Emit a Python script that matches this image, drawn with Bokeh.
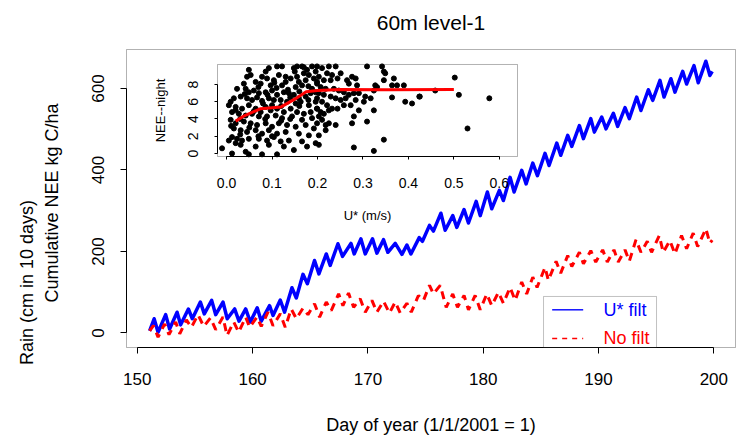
import math
from bokeh.plotting import figure
from bokeh.models import (Range1d, LinearAxis, FixedTicker, Label, BoxAnnotation,
                          PrintfTickFormatter)
from bokeh.embed import file_html
from bokeh.resources import INLINE

FONT = "Liberation Sans"

# ---------------- data ----------------
day_ticks = [150, 160, 170, 180, 190, 200]
nee_ticks = [0, 200, 400, 600]
ustar_ticks = [0.0, 0.1, 0.2, 0.3, 0.4, 0.5, 0.6]
night_ticks = [0, 2, 4, 6, 8]

title_text = "60m level-1"
x_label = "Day of year (1/1/2001 = 1)"
y_label_1 = "Rain (cm in 10 days)"
y_label_2 = "Cumulative NEE kg C/ha"
inset_x_label = "U* (m/s)"
inset_y_label = "NEE--night"
series_names = ["U* filt", "No filt"]

# U* filtered cumulative NEE (blue)
blue_day = [151.07, 151.46, 151.8, 152.46, 152.8, 153.45, 153.76, 154.43, 154.77, 155.47,
            155.81, 156.45, 156.8, 157.43, 157.8, 158.44, 158.82, 159.4, 159.8, 160.4,
            160.75, 161.47, 161.77, 162.4, 162.77, 163.41, 163.79, 164.37, 164.75, 165.37,
            165.75, 166.39, 166.73, 167.4, 167.8, 168.53, 168.81, 169.39, 169.77, 170.4,
            170.78, 171.35, 171.73, 172.37, 172.95, 173.38, 173.73, 174.45, 174.73, 175.34,
            175.68, 176.33, 176.7, 177.36, 177.71, 178.34, 178.72, 179.39, 179.74, 180.36,
            180.74, 181.4, 181.75, 182.33, 182.68, 183.34, 183.72, 184.3, 184.7, 185.36,
            185.71, 186.38, 186.72, 187.33, 187.68, 188.34, 188.69, 189.33, 189.64, 190.28,
            190.65, 191.29, 191.66, 192.3, 192.67, 193.31, 193.68, 194.32, 194.7, 195.33,
            195.68, 196.28, 196.63, 197.3, 197.64, 198.28, 198.65, 199.31, 199.66, 199.86]
blue_val = [5, 35, 2, 45, 10, 51, 20, 59, 35, 76,
            47, 80, 45, 76, 35, 59, 29, 59, 27, 62,
            29, 67, 43, 81, 51, 111, 86, 144, 121, 178,
            145, 194, 166, 219, 188, 220, 194, 231, 194, 231,
            196, 229, 198, 220, 193, 216, 194, 234, 225, 264,
            250, 294, 252, 288, 259, 303, 270, 323, 288, 346,
            305, 350, 325, 382, 346, 399, 366, 417, 386, 441,
            411, 466, 436, 485, 458, 509, 477, 526, 493, 530,
            501, 539, 507, 553, 526, 579, 546, 597, 571, 620,
            579, 624, 591, 642, 611, 656, 614, 667, 632, 642]

# no filter cumulative NEE (red dashed)
red_day = [151.07, 151.4, 151.8, 152.37, 152.75, 153.33, 153.68, 154.26, 154.69, 155.27,
           155.76, 156.34, 156.8, 157.43, 157.78, 158.36, 158.79, 159.4, 159.74, 160.38,
           160.75, 161.33, 161.77, 162.4, 162.83, 163.35, 163.79, 164.37, 164.8, 165.37,
           165.81, 166.39, 166.82, 167.46, 167.83, 168.32, 168.76, 169.33, 169.77, 170.35,
           170.78, 171.35, 171.87, 172.37, 172.8, 173.38, 173.76, 174.38, 174.82, 175.34,
           175.68, 176.27, 176.79, 177.36, 177.77, 178.34, 178.72, 179.3, 179.74, 180.31,
           180.74, 181.32, 181.75, 182.33, 182.77, 183.34, 183.77, 184.3, 184.67, 185.36,
           185.65, 186.32, 186.72, 187.33, 187.68, 188.34, 188.69, 189.33, 189.76, 190.36,
           190.76, 191.34, 191.71, 192.3, 192.67, 193.25, 193.68, 194.23, 194.6, 195.27,
           195.61, 196.19, 196.63, 197.2, 197.64, 198.21, 198.6, 199.31, 199.66, 199.86]
red_val = [5, 18, -10, 22, -4, 27, -2, 32, 14, 45,
           16, 37, 8, 39, -6, 27, 2, 39, 14, 39,
           16, 51, 18, 47, 14, 59, 35, 61, 45, 72,
           39, 76, 55, 96, 67, 98, 63, 84, 51, 80,
           51, 78, 49, 76, 49, 73, 51, 92, 80, 117,
           96, 117, 63, 96, 63, 92, 57, 92, 57, 96,
           67, 100, 73, 112, 80, 125, 96, 137, 112, 161,
           129, 176, 147, 190, 163, 198, 170, 202, 174, 204,
           174, 204, 174, 204, 176, 229, 198, 225, 198, 239,
           198, 227, 194, 239, 207, 245, 212, 256, 220, 228]

# inset: night NEE versus U*  (u*, NEE) pairs
night_low_u = [
    (0.049, 9.7), (0.086, 9.5), (0.093, 9.9), (0.111, 10.1), (0.122, 10.1), (0.148, 9.9),
    (0.155, 10.1), (0.166, 10.1), (0.177, 9.7), (0.188, 10.1), (0.196, 9.5), (0.17, 9.3),
    (0.181, 9.1), (0.045, 8.9), (0.053, 9.1), (0.078, 8.9), (0.089, 8.7), (0.104, 8.5),
    (0.115, 9.1), (0.13, 8.3), (0.141, 8.7), (0.159, 8.3), (0.174, 8.5), (0.192, 8.7),
    (0.199, 8.3), (0.038, 8.1), (0.064, 8.3), (0.075, 8.1), (0.097, 7.9), (0.122, 7.9),
    (0.152, 7.7), (0.166, 7.9), (0.188, 7.5), (0.196, 7.1), (0.023, 7.5), (0.042, 7.5),
    (0.049, 7.1), (0.06, 7.3), (0.071, 7.0), (0.086, 7.1), (0.1, 7.3), (0.111, 6.8),
    (0.126, 7.1), (0.137, 7.0), (0.148, 6.8), (0.159, 6.4), (0.174, 6.6), (0.185, 7.0),
    (0.009, 6.0), (0.016, 6.4), (0.031, 6.6), (0.045, 6.4), (0.056, 6.2), (0.067, 6.5),
    (0.078, 6.1), (0.093, 6.4), (0.104, 6.2), (0.119, 6.2), (0.133, 6.0), (0.152, 5.8),
    (0.163, 6.0), (0.181, 5.6), (0.196, 6.0), (0.005, 5.6), (0.02, 5.4), (0.034, 5.2),
    (0.049, 5.6), (0.064, 5.2), (0.075, 4.8), (0.086, 5.4), (0.097, 5.0), (0.111, 5.2),
    (0.126, 4.8), (0.141, 5.2), (0.155, 4.8), (0.17, 4.6), (0.185, 4.8), (0.199, 5.2),
    (0.012, 4.8), (0.027, 4.6), (0.042, 4.4), (0.056, 4.6), (0.071, 4.3), (0.089, 4.3),
    (0.108, 4.4), (0.122, 4.1), (0.144, 4.3), (0.166, 3.9), (0.188, 4.1), (0.009, 3.9),
    (0.02, 3.5), (0.038, 3.7), (0.053, 3.5), (0.067, 3.3), (0.086, 3.5), (0.1, 3.1),
    (0.115, 3.5), (0.133, 3.3), (0.152, 3.1), (0.174, 3.3), (0.192, 2.9), (0.016, 2.9),
    (0.031, 2.7), (0.045, 2.5), (0.064, 2.7), (0.078, 2.3), (0.093, 2.7), (0.111, 2.3),
    (0.13, 2.5), (0.159, 2.3), (0.181, 2.1), (0.012, 1.9), (0.023, 1.7), (0.034, 1.5),
    (0.049, 1.7), (0.071, 1.7), (0.089, 1.5), (0.104, 1.9), (0.119, 1.4), (0.137, 1.5),
    (0.166, 1.4), (0.005, 1.5), (0.02, 1.2), (0.031, 1.0), (0.064, 0.8), (0.093, 1.0),
    (0.126, 0.8), (0.148, 0.4), (0.177, 0.8), (0.196, 1.2), (0.012, 0.0), (0.042, 0.2),
    (0.078, -0.1), (0.111, -0.1), (0.049, -0.1), (-0.01, 0.6),
    (0.03, 4.0), (0.06, 4.9), (0.08, 5.8), (0.1, 5.6), (0.12, 5.5), (0.14, 6.5),
    (0.16, 7.2), (0.18, 7.8), (0.07, 7.7), (0.09, 6.8), (0.11, 7.6), (0.13, 8.9),
    (0.15, 9.5), (0.17, 10.0), (0.05, 3.0), (0.07, 2.0), (0.1, 2.0), (0.12, 3.8),
    (0.14, 4.0), (0.16, 5.5), (0.18, 6.2), (0.04, 6.9), (0.02, 5.0), (0.01, 3.2),
    (0.03, 2.2), (0.085, 4.0), (0.105, 8.2), (0.135, 7.4), (0.155, 8.9),
]
night_high_u = [
    (0.199, 10.1), (0.225, 10.1), (0.24, 10.1), (0.21, 9.9), (0.221, 9.3), (0.232, 9.1),
    (0.251, 9.3), (0.203, 8.9), (0.214, 8.5), (0.229, 8.5), (0.244, 8.7), (0.265, 8.5),
    (0.276, 8.9), (0.284, 8.7), (0.269, 8.1), (0.287, 7.9), (0.309, 10.1), (0.342, 10.1),
    (0.346, 9.5), (0.349, 9.3), (0.368, 8.7), (0.346, 8.5), (0.364, 7.9), (0.375, 7.9),
    (0.39, 7.9), (0.327, 7.9), (0.331, 7.7), (0.324, 7.3), (0.199, 8.1), (0.207, 7.7),
    (0.218, 7.5), (0.236, 7.5), (0.247, 7.3), (0.258, 7.1), (0.269, 6.8), (0.28, 7.0),
    (0.291, 7.0), (0.305, 6.6), (0.317, 6.4), (0.203, 7.0), (0.214, 6.8), (0.229, 6.6),
    (0.24, 6.4), (0.251, 6.2), (0.262, 6.4), (0.284, 6.2), (0.302, 6.0), (0.364, 6.5),
    (0.393, 6.0), (0.408, 5.8), (0.424, 6.6), (0.199, 6.4), (0.21, 6.0), (0.221, 5.6),
    (0.232, 5.2), (0.244, 5.2), (0.258, 5.6), (0.273, 5.6), (0.291, 5.0), (0.324, 5.0),
    (0.199, 5.2), (0.207, 4.8), (0.214, 4.6), (0.225, 5.0), (0.203, 4.3), (0.21, 3.9),
    (0.199, 3.5), (0.218, 3.3), (0.24, 3.3), (0.225, 3.5), (0.276, 3.5), (0.28, 4.3),
    (0.309, 3.7), (0.218, 2.7), (0.203, 2.1), (0.346, 1.6), (0.203, 1.0), (0.28, 0.7),
    (0.324, 0.3),
    (0.502, 8.8), (0.425, 6.6), (0.459, 7.3), (0.511, 6.8), (0.578, 6.4), (0.53, 2.9),
]
# smooth (lowess) curve through the scatter
lowess_u = [0.02, 0.04, 0.075, 0.12, 0.15, 0.175, 0.2, 0.25, 0.35, 0.5]
lowess_v = [3.75, 4.4, 5.2, 5.4, 6.3, 7.15, 7.3, 7.42, 7.38, 7.42]

night_u = [u for u, v in night_low_u + night_high_u]
night_v = [v for u, v in night_low_u + night_high_u]

# ---------------- layout constants ----------------
W, H = 744, 437
# main plot box (data units) and the canvas-wide ranges that place it
BOX_L, BOX_R, BOX_B, BOX_T = 149.063, 201.88, -35.6, 695.7
X_CANVAS = (138.1352, 202.6603)
Y_CANVAS = (-256.46, 815.95)
# inset box (inset units) and canvas-wide inset ranges
INSET_L, INSET_R, INSET_B, INSET_T = -0.02, 0.64, -0.35, 10.32
UX_CANVAS = (-0.4974, 1.1394)
UY_CANVAS = (-32.940, 17.7426)

p = figure(width=W, height=H, output_backend="svg", toolbar_location=None, title=None,
           x_range=Range1d(*X_CANVAS), y_range=Range1d(*Y_CANVAS),
           x_axis_location=None, y_axis_location=None,
           min_border=0, min_border_left=0, min_border_right=0,
           min_border_top=0, min_border_bottom=0,
           background_fill_color="white", border_fill_color="white")
p.grid.visible = False
p.outline_line_color = None
p.extra_x_ranges = {"ux": Range1d(*UX_CANVAS)}
p.extra_y_ranges = {"uy": Range1d(*UY_CANVAS)}


def style_axis(ax, font_size, tick_out, standoff):
    ax.major_tick_out = tick_out
    ax.major_tick_in = 0
    ax.minor_tick_line_color = None
    ax.axis_line_color = "black"
    ax.major_tick_line_color = "black"
    ax.major_label_text_font = FONT
    ax.major_label_text_font_size = font_size
    ax.major_label_text_color = "black"
    ax.major_label_standoff = standoff


# main box
p.add_layout(BoxAnnotation(left=BOX_L, right=BOX_R, bottom=BOX_B, top=BOX_T,
                           fill_alpha=0, line_color="black", line_width=1))

xa = LinearAxis(fixed_location=BOX_B, ticker=FixedTicker(ticks=day_ticks),
                bounds=(day_ticks[0], day_ticks[-1]))
style_axis(xa, "17px", 6, 19)
p.add_layout(xa, "below")

ya = LinearAxis(fixed_location=BOX_L, ticker=FixedTicker(ticks=nee_ticks),
                bounds=(nee_ticks[0], nee_ticks[-1]))
ya.major_label_orientation = "vertical"
style_axis(ya, "17px", 6, 16)
p.add_layout(ya, "left")

# main series
p.line(blue_day, blue_val, line_color="blue", line_width=3.5, line_join="round")
p.line(red_day, red_val, line_color="red", line_width=3, line_dash="8 6")

# ---------------- inset ----------------
p.add_layout(BoxAnnotation(left=INSET_L, right=INSET_R, bottom=INSET_B, top=INSET_T,
                           x_range_name="ux", y_range_name="uy",
                           fill_alpha=0, line_color="black", line_width=1))

p.scatter(night_u, night_v, x_range_name="ux", y_range_name="uy",
          size=5, fill_color="black", line_color="black")
p.line(lowess_u, lowess_v, x_range_name="ux", y_range_name="uy",
       line_color="red", line_width=3)

ix = LinearAxis(x_range_name="ux", y_range_name="uy", fixed_location=INSET_B,
                ticker=FixedTicker(ticks=ustar_ticks),
                formatter=PrintfTickFormatter(format="%.1f"),
                bounds=(ustar_ticks[0], ustar_ticks[-1]))
style_axis(ix, "14px", 3, 19)
p.add_layout(ix, "below")

iy = LinearAxis(x_range_name="ux", y_range_name="uy", fixed_location=INSET_L,
                ticker=FixedTicker(ticks=night_ticks),
                bounds=(night_ticks[0], night_ticks[-1]))
iy.major_label_orientation = "vertical"
style_axis(iy, "14px", 3, 16)
p.add_layout(iy, "left")


# ---------------- texts (screen units from the canvas bottom-left) ----------------
def add_label(text, x, y, size, color="black", angle=0.0):
    p.add_layout(Label(x=x, y=y, x_units="screen", y_units="screen", text=text, angle=angle,
                       text_font=FONT, text_font_size=size, text_color=color,
                       text_align="center", text_baseline="middle"))


add_label(title_text, 430.5, 415, "21px")
add_label(x_label, 430.5, 13, "18px")
add_label(y_label_2, 51.7, 234.5, "18px", angle=math.pi / 2)
add_label(y_label_1, 26.7, 155, "18px", angle=math.pi / 2)
add_label(inset_x_label, 367, 222, "13px")
add_label(inset_y_label, 160, 327, "13px", angle=math.pi / 2)

# ---------------- legend (bottom right) ----------------
LEG_L, LEG_R, LEG_B, LEG_T = 185.23, 195.03, BOX_B, 89.6
LEG_S0, LEG_S1, LEG_TX = 185.98, 188.67, 190.43
LEG_ROWS = [56.9, -13.5]
p.add_layout(BoxAnnotation(left=LEG_L, right=LEG_R, bottom=LEG_B, top=LEG_T,
                           fill_alpha=0, line_color="#333333", line_width=1))
p.line([LEG_S0, LEG_S1], [LEG_ROWS[0]] * 2, line_color="blue", line_width=1.4)
p.line([LEG_S0, LEG_S1], [LEG_ROWS[1]] * 2, line_color="red", line_width=1.4,
       line_dash="5 5")
for name, row, col in zip(series_names, LEG_ROWS, ["blue", "red"]):
    p.add_layout(Label(x=LEG_TX, y=row, text=name, text_font=FONT, text_font_size="18px",
                       text_color=col, text_align="left", text_baseline="middle"))

open("out.html", "w").write(file_html(p, INLINE))
